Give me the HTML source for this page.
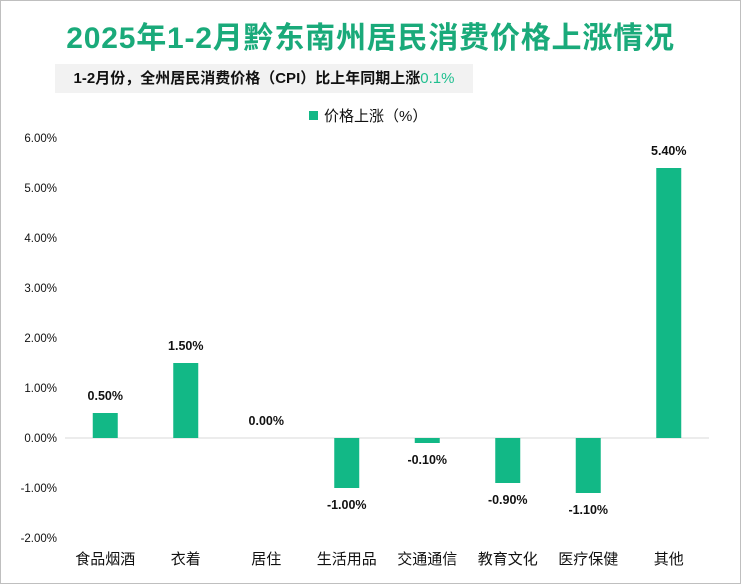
<!DOCTYPE html>
<html><head><meta charset="utf-8"><style>
body{margin:0;background:#fff}
#wrap{position:relative;width:739px;height:582px;border:1px solid #bfbfbf;background:#fff;overflow:hidden;font-family:"Liberation Sans","Noto Sans CJK SC",sans-serif}
#title{position:absolute;left:0;width:739px;top:12px;text-align:center;font-size:30px;font-weight:bold;color:#1aaa7a;letter-spacing:0.8px;white-space:nowrap}
#sub{position:absolute;left:54px;top:63px;width:418px;height:29px;background:#f2f2f2;font-size:15px;font-weight:bold;line-height:29px;text-align:center;color:#111;white-space:nowrap}
#sub span{color:#1fbf8f;font-weight:normal}
svg{position:absolute;left:0;top:0}
</style></head><body>
<div id="wrap">
<div id="title">2025年1-2月黔东南州居民消费价格上涨情况</div>
<div id="sub">1-2月份，全州居民消费价格（CPI）比上年同期上涨<span>0.1%</span></div>
<svg id="chart" width="739" height="582">
<rect x="308" y="110" width="9" height="9" fill="#12b886"/>
<text x="323" y="120" font-size="15" fill="#111">价格上涨（%）</text>
</svg>
</div>
<script>
const categories=["食品烟酒","衣着","居住","生活用品","交通通信","教育文化","医疗保健","其他"];
const values=[0.5,1.5,0.0,-1.0,-0.1,-0.9,-1.1,5.4];
const ticks=[6,5,4,3,2,1,0,-1,-2];
const svg=document.getElementById('chart');
const NS='http://www.w3.org/2000/svg';
const left=64,right=708,yTop=137,yBot=537,vMax=6,vMin=-2;
const y=v=>yTop+(vMax-v)/(vMax-vMin)*(yBot-yTop);
const bw=(right-left)/categories.length;
const x=i=>left+bw*(i+0.5);
function mk(t,a){const e=document.createElementNS(NS,t);for(const k in a)e.setAttribute(k,a[k]);svg.appendChild(e);return e;}
ticks.forEach(t=>{const e=mk('text',{x:56,y:y(t)+4,'font-size':11.5,'text-anchor':'end',fill:'#111'});


e.textContent=t.toFixed(2)+'%';});
const ax=mk('line',{x1:left,x2:right,y1:y(0),y2:y(0),stroke:'#d9d9d9','stroke-width':1});


values.forEach((v,i)=>{
const y0=y(0),y1=y(v);
const r=mk('rect',{x:x(i)-12.5,y:Math.min(y0,y1),width:25,height:Math.abs(y1-y0),fill:'#12b886'});


const ly=v>=0?y1-13:y1+21;
const l=mk('text',{x:x(i),y:ly,'font-size':12.5,'font-weight':'bold','text-anchor':'middle',fill:'#111'});


l.textContent=v.toFixed(2)+'%';
const c=mk('text',{x:x(i),y:563,'font-size':15,'text-anchor':'middle',fill:'#111'});


c.textContent=categories[i];
});
</script>
</body></html>
